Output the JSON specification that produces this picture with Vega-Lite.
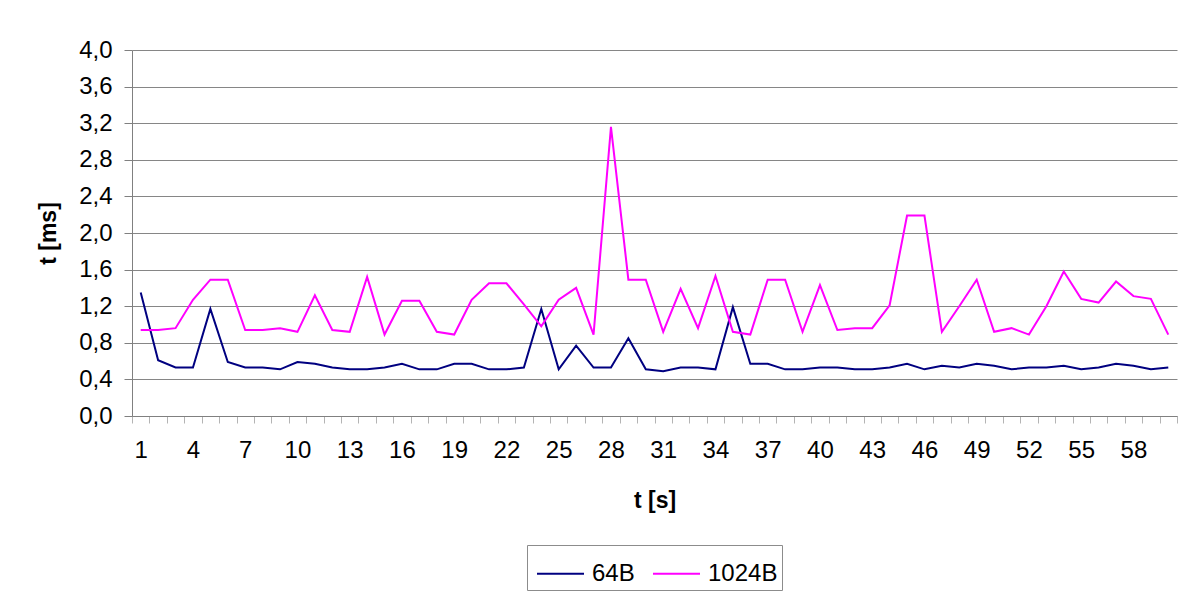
{
  "$schema": "https://vega.github.io/schema/vega-lite/v6.json",
  "width": 1045,
  "height": 366,
  "autosize": {"type": "none"},
  "padding": {"left": 132, "top": 50, "right": 7, "bottom": 176},
  "background": "white",
  "config": {
    "view": {"stroke": null},
    "font": "Liberation Sans"
  },
  "data": {
    "values": [
      {"s": 1, "64B": 1.35, "1024B": 0.94},
      {"s": 2, "64B": 0.61, "1024B": 0.94},
      {"s": 3, "64B": 0.53, "1024B": 0.96},
      {"s": 4, "64B": 0.53, "1024B": 1.27},
      {"s": 5, "64B": 1.17, "1024B": 1.49},
      {"s": 6, "64B": 0.59, "1024B": 1.49},
      {"s": 7, "64B": 0.53, "1024B": 0.94},
      {"s": 8, "64B": 0.53, "1024B": 0.94},
      {"s": 9, "64B": 0.51, "1024B": 0.96},
      {"s": 10, "64B": 0.59, "1024B": 0.92},
      {"s": 11, "64B": 0.57, "1024B": 1.32},
      {"s": 12, "64B": 0.53, "1024B": 0.94},
      {"s": 13, "64B": 0.51, "1024B": 0.92},
      {"s": 14, "64B": 0.51, "1024B": 1.52},
      {"s": 15, "64B": 0.53, "1024B": 0.89},
      {"s": 16, "64B": 0.57, "1024B": 1.26},
      {"s": 17, "64B": 0.51, "1024B": 1.26},
      {"s": 18, "64B": 0.51, "1024B": 0.92},
      {"s": 19, "64B": 0.57, "1024B": 0.89},
      {"s": 20, "64B": 0.57, "1024B": 1.27},
      {"s": 21, "64B": 0.51, "1024B": 1.45},
      {"s": 22, "64B": 0.51, "1024B": 1.45},
      {"s": 23, "64B": 0.53, "1024B": 1.22},
      {"s": 24, "64B": 1.17, "1024B": 0.98},
      {"s": 25, "64B": 0.51, "1024B": 1.27},
      {"s": 26, "64B": 0.77, "1024B": 1.40},
      {"s": 27, "64B": 0.53, "1024B": 0.89},
      {"s": 28, "64B": 0.53, "1024B": 3.16},
      {"s": 29, "64B": 0.85, "1024B": 1.49},
      {"s": 30, "64B": 0.51, "1024B": 1.49},
      {"s": 31, "64B": 0.49, "1024B": 0.92},
      {"s": 32, "64B": 0.53, "1024B": 1.39},
      {"s": 33, "64B": 0.53, "1024B": 0.96},
      {"s": 34, "64B": 0.51, "1024B": 1.53},
      {"s": 35, "64B": 1.19, "1024B": 0.92},
      {"s": 36, "64B": 0.57, "1024B": 0.89},
      {"s": 37, "64B": 0.57, "1024B": 1.49},
      {"s": 38, "64B": 0.51, "1024B": 1.49},
      {"s": 39, "64B": 0.51, "1024B": 0.92},
      {"s": 40, "64B": 0.53, "1024B": 1.43},
      {"s": 41, "64B": 0.53, "1024B": 0.94},
      {"s": 42, "64B": 0.51, "1024B": 0.96},
      {"s": 43, "64B": 0.51, "1024B": 0.96},
      {"s": 44, "64B": 0.53, "1024B": 1.21},
      {"s": 45, "64B": 0.57, "1024B": 2.19},
      {"s": 46, "64B": 0.51, "1024B": 2.19},
      {"s": 47, "64B": 0.55, "1024B": 0.92},
      {"s": 48, "64B": 0.53, "1024B": 1.20},
      {"s": 49, "64B": 0.57, "1024B": 1.49},
      {"s": 50, "64B": 0.55, "1024B": 0.92},
      {"s": 51, "64B": 0.51, "1024B": 0.96},
      {"s": 52, "64B": 0.53, "1024B": 0.89},
      {"s": 53, "64B": 0.53, "1024B": 1.20},
      {"s": 54, "64B": 0.55, "1024B": 1.58},
      {"s": 55, "64B": 0.51, "1024B": 1.28},
      {"s": 56, "64B": 0.53, "1024B": 1.24},
      {"s": 57, "64B": 0.57, "1024B": 1.47},
      {"s": 58, "64B": 0.55, "1024B": 1.31},
      {"s": 59, "64B": 0.51, "1024B": 1.28},
      {"s": 60, "64B": 0.53, "1024B": 0.89}
    ]
  },
  "transform": [
    {"fold": ["64B", "1024B"], "as": ["series", "t"]}
  ],
  "mark": {"type": "line", "strokeWidth": 2},
  "encoding": {
    "x": {
      "field": "s",
      "type": "quantitative",
      "scale": {"domain": [0.5, 60.5], "nice": false, "zero": false},
      "axis": {
        "title": "t [s]",
        "titleFont": "Liberation Sans",
        "titleFontSize": 23,
        "titleFontWeight": "bold",
        "titleColor": "black",
        "titlePadding": 27,
        "values": [0.5,1.5,2.5,3.5,4.5,5.5,6.5,7.5,8.5,9.5,10.5,11.5,12.5,13.5,14.5,15.5,16.5,17.5,18.5,19.5,20.5,21.5,22.5,23.5,24.5,25.5,26.5,27.5,28.5,29.5,30.5,31.5,32.5,33.5,34.5,35.5,36.5,37.5,38.5,39.5,40.5,41.5,42.5,43.5,44.5,45.5,46.5,47.5,48.5,49.5,50.5,51.5,52.5,53.5,54.5,55.5,56.5,57.5,58.5,59.5,60.5],
        "labelExpr": "(datum.value < 60 && (datum.value + 0.5) % 3 == 1) ? '' + (datum.value + 0.5) : ''",
        "labelOffset": 8.71,
        "labelOverlap": false,
        "labelFlush": false,
        "labelFontSize": 24,
        "labelColor": "black",
        "labelPadding": 15,
        "tickSize": 7,
        "tickColor": "#b4b4b4",
        "domainColor": "#808080",
        "grid": false
      }
    },
    "y": {
      "field": "t",
      "type": "quantitative",
      "scale": {"domain": [0, 4], "nice": false},
      "axis": {
        "title": "t [ms]",
        "titleFont": "Liberation Sans",
        "titleFontSize": 23,
        "titleFontWeight": "bold",
        "titleColor": "black",
        "titlePadding": 18,
        "values": [0, 0.4, 0.8, 1.2, 1.6, 2.0, 2.4, 2.8, 3.2, 3.6, 4.0],
        "labelExpr": "replace(format(datum.value, '.1f'), '.', ',')",
        "labelFontSize": 24,
        "labelColor": "black",
        "labelPadding": 12,
        "tickSize": 8,
        "tickColor": "#808080",
        "domainColor": "#808080",
        "grid": true,
        "gridColor": "#868686",
        "gridOpacity": 1
      }
    },
    "color": {
      "field": "series",
      "type": "nominal",
      "scale": {"domain": ["64B", "1024B"], "range": ["#000080", "#FF00FF"]},
      "legend": {
        "title": null,
        "orient": "none",
        "legendX": 395,
        "legendY": 495,
        "direction": "horizontal",
        "strokeColor": "#8c8c8c",
        "fillColor": "white",
        "padding": 4,
        "symbolType": "stroke",
        "symbolStrokeWidth": 2,
        "symbolSize": 2209,
        "symbolOffset": 5,
        "labelFontSize": 24,
        "labelColor": "black",
        "labelOffset": 7,
        "columnPadding": 12
      }
    }
  }
}
